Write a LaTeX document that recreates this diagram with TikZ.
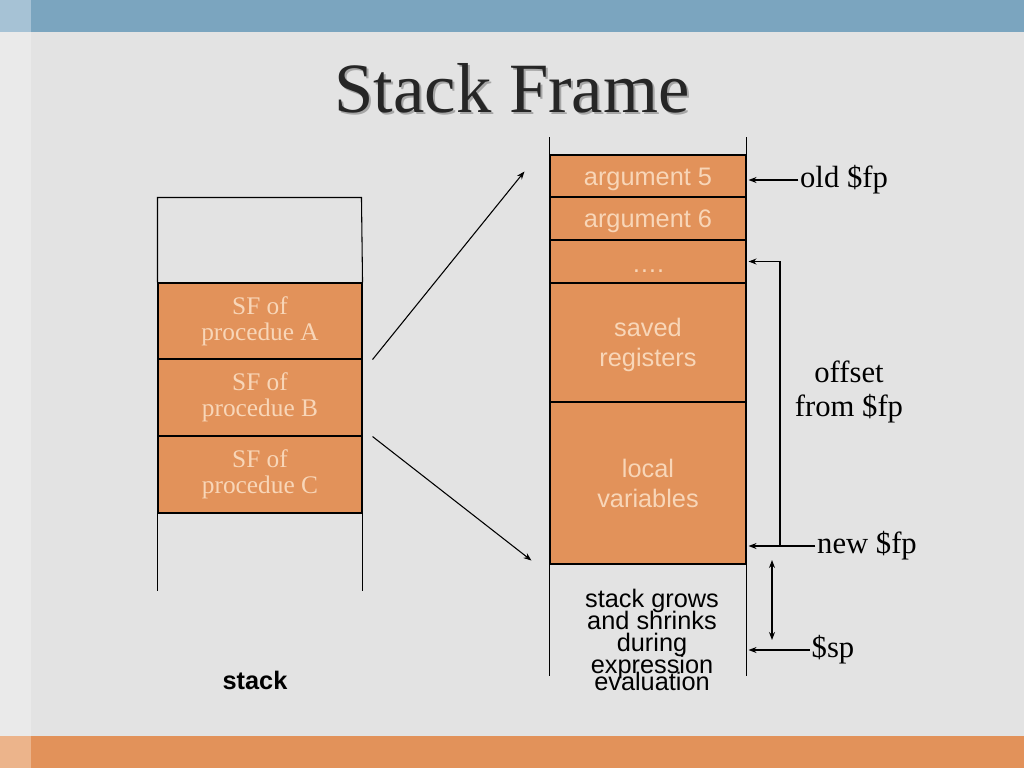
\documentclass[tikz,border=0pt]{standalone}
\usepackage{fontspec}
\setmainfont{Liberation Serif}
\setsansfont{Liberation Sans}
\usetikzlibrary{arrows.meta}

\definecolor{slidegray}{HTML}{E3E3E3}
\definecolor{stripgray}{HTML}{EAEAEA}
\definecolor{topblue}{HTML}{7BA5BF}
\definecolor{topblueleft}{HTML}{A6C2D5}
\definecolor{frameorange}{HTML}{E2925A}
\definecolor{orangeleft}{HTML}{ECB48B}
\definecolor{cellpeach}{HTML}{F8D6B8}
\definecolor{titleink}{HTML}{262626}
% lines of the "stack grows" text may touch
\lineskiplimit=-30pt

\begin{document}
\begin{tikzpicture}[x=0.75pt, y=-0.75pt, >={Stealth[length=6pt,width=4.5pt]}, line width=0.8pt,
	cellL/.style={draw, fill=frameorange, text=cellpeach, minimum width=153pt, inner sep=0pt, align=center, font=\fontsize{19}{19.5}\selectfont},
	cellR/.style={draw, fill=frameorange, text=cellpeach, minimum width=147pt, inner sep=0pt, align=center, font=\sffamily\fontsize{19}{22.5}\selectfont},
	note/.style={inner sep=1pt, align=center, font=\fontsize{23}{25}\selectfont},
	title/.style={font=\fontsize{53}{55}\selectfont, text=titleink}]
	\useasboundingbox (0,0) rectangle (1024,768);
	
	% 1. slide background and bars
	\fill[slidegray] (0,0) rectangle (1024,768);
	\fill[stripgray] (0,0) rectangle (31,768);
	\fill[topblue] (0,0) rectangle (1024,32);
	\fill[topblueleft] (0,0) rectangle (31,32);
	\fill[frameorange] (0,736) rectangle (1024,768);
	\fill[orangeleft] (0,736) rectangle (31,768);
	
	% 2. title (with shadow)
	\node[title, text=gray!70] (titleshadow) at (514,90) {Stack Frame};
	\node[title] (title) at (512,88) {Stack Frame};
	
	% 3. the stack on the left
	\node[cellL, minimum height=57pt] (sfA) at (260,321) {SF of\\procedue A};
	\node[cellL, minimum height=57.75pt] (sfB) at (260,397.5) {SF of\\procedue B};
	\node[cellL, minimum height=57.75pt] (sfC) at (260,474.5) {SF of\\procedue C};
	\draw (sfA.north west) -- ++(0,-85) -- ++(204,0) -- (sfA.north east);
	\draw (sfC.south west) -- ++(0,77);
	\draw (sfC.south east) -- ++(0,77);
	\node[font=\sffamily\bfseries\fontsize{19}{20}\selectfont] (stacklbl) at (255,680) {stack};
	
	% 4. one stack frame on the right
	\node[cellR, minimum height=31.5pt, text height=17pt, text depth=3pt] (arg5) at (648,176) {argument 5};
	\node[cellR, minimum height=32.25pt, text height=17pt, text depth=3pt] (arg6) at (648,218.5) {argument 6};
	\node[cellR, minimum height=32.25pt, text height=20pt, text depth=3pt] (dots) at (648,261.5) {….};
	\node[cellR, minimum height=89.25pt, text depth=-2pt] (saved) at (648,342.5) {saved\\registers};
	\node[cellR, minimum height=121.5pt, text depth=-2.2pt] (locals) at (648,483) {local\\variables};
	\draw (arg5.north west) -- ++(0,-17);
	\draw (arg5.north east) -- ++(0,-17);
	\draw (locals.south west) -- ++(0,111);
	\draw (locals.south east) -- ++(0,111);
	\node[align=center, font=\sffamily\fontsize{19}{16.5}\selectfont] (grows) at (652,640) {stack grows\\and shrinks\\during\\expression\\[-4pt]evaluation};
	
	% 5. zoom arrows
	\draw[->] ([xshift=7.5pt]sfA.south east) -- ([xshift=-18.75pt,yshift=-12.75pt]arg5.north west);
	\draw[->] ([xshift=7.5pt]sfB.south east) -- ([xshift=-13.5pt,yshift=3pt]locals.south west);
	
	% 6. pointers
	\coordinate (bracket) at (780,0);
	\coordinate (grtop) at (772,560);
	\coordinate (grbot) at (772,640);
	\node[note] (oldfp) at (844,180) {old \$fp};
	\node[note] (offset) at (849,392) {offset\\from \$fp};
	\node[note] (newfp) at (867,546) {new \$fp};
	\node[note] (spl) at (833,650) {\$sp};
	\draw[->, shorten >=1.5pt] (oldfp.west) -- (oldfp.west -| arg5.east);
	\draw[->, shorten >=1.5pt] (newfp.west) -- (newfp.west -| locals.east);
	\draw[->, shorten >=1.5pt] (newfp.west -| bracket) |- (dots.east);
	\draw[<->] (grtop) -- (grbot);
	\draw[->, shorten >=1.5pt] (spl.west) -- (spl.west -| locals.east);
\end{tikzpicture}
\end{document}
